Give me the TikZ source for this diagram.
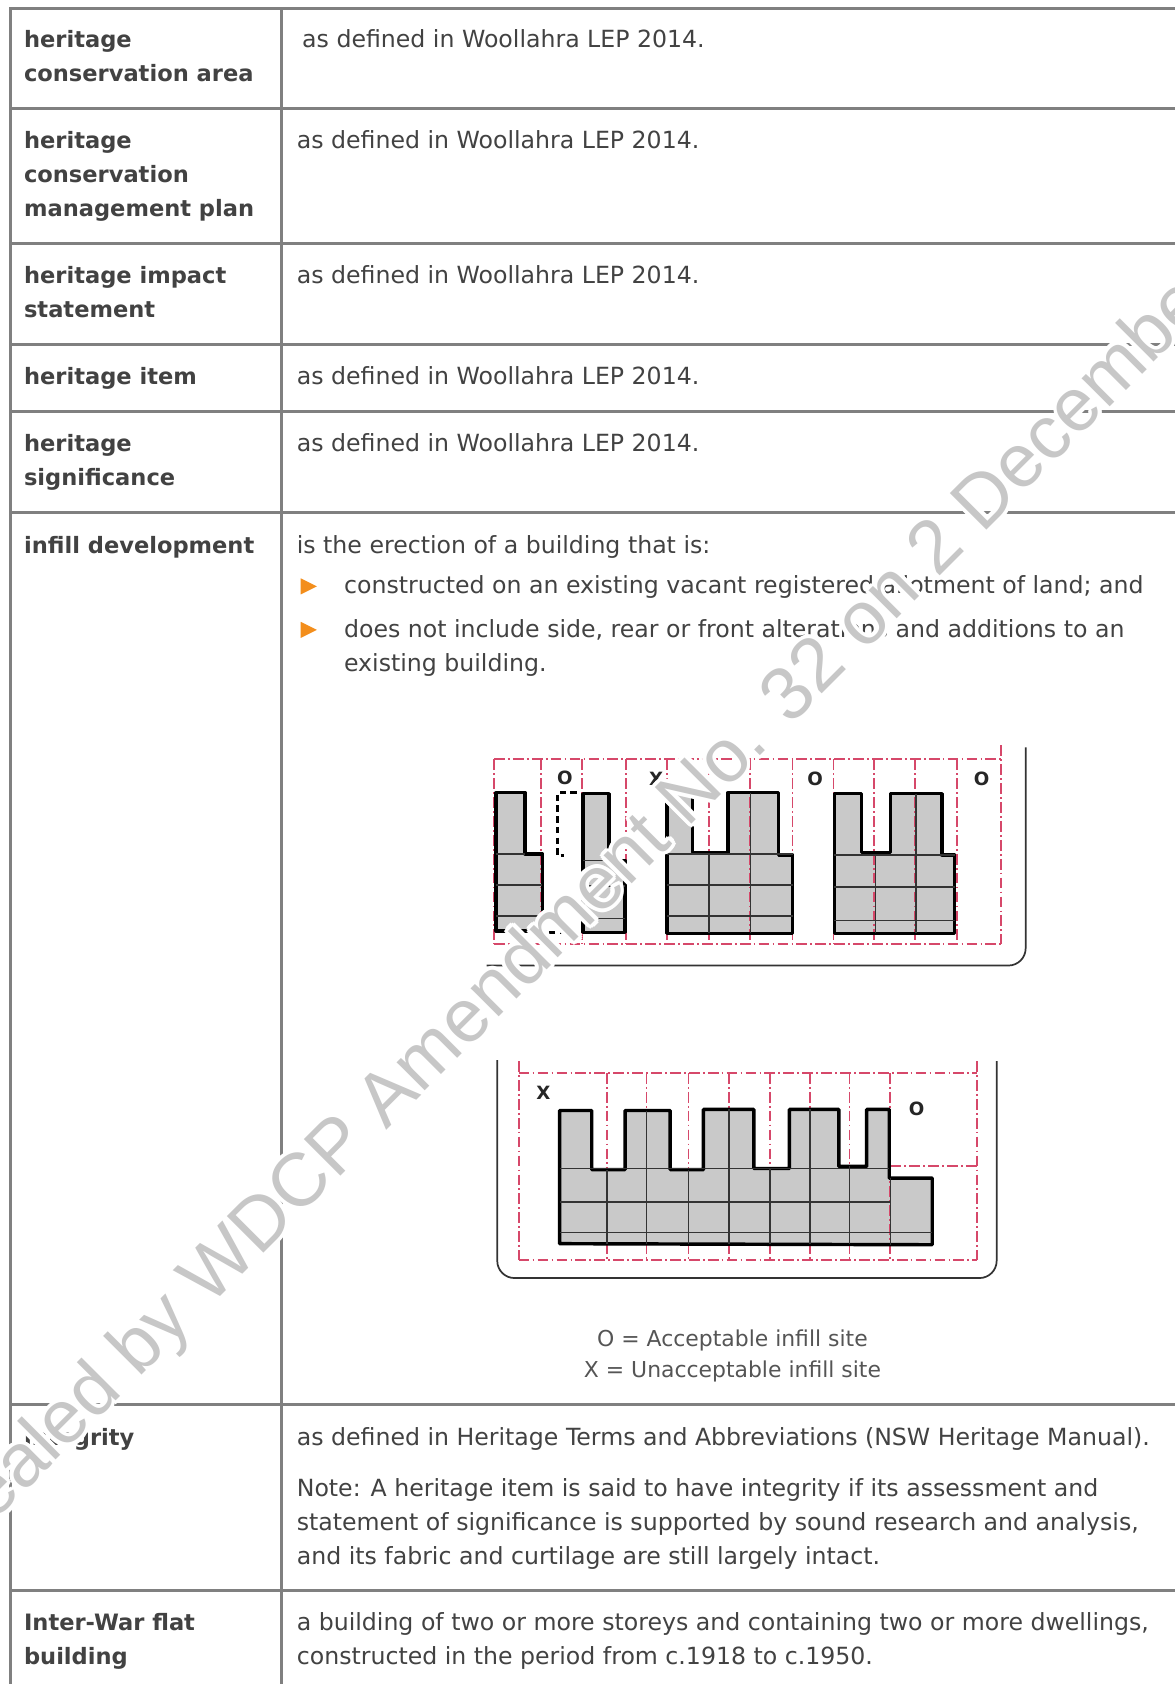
\documentclass[tikz,border=0pt]{standalone}
\usepackage{fontspec}
\setmainfont{DejaVu Sans}
\newfontfamily\wmfont{Liberation Sans}

\definecolor{rulegrey}{RGB}{128,128,128}
\definecolor{txtgrey}{RGB}{66,66,66}
\definecolor{bulletorange}{RGB}{243,142,28}
\definecolor{lotred}{RGB}{214,72,106}
\definecolor{roofgrey}{RGB}{201,201,201}
\definecolor{markgrey}{RGB}{199,199,199}

\tikzset{
  term/.style={anchor=base west, inner sep=0pt, text=txtgrey, font=\fontsize{10.5}{12}\selectfont\bfseries},
  defn/.style={anchor=base west, inner sep=0pt, text=txtgrey, font=\fontsize{11}{13}\selectfont},
  legend/.style={anchor=base, inner sep=0pt, text=txtgrey!90, font=\fontsize{10.2}{12}\selectfont},
  sitelabel/.style={inner sep=0pt, text=black!85, font=\fontsize{8.5}{9}\selectfont\bfseries},
  rule/.style={rulegrey, line width=1.3pt},
  lotline/.style={lotred, line width=0.8pt, dash pattern=on 5pt off 1.5pt on 0.8pt off 1.5pt},
  bldgedge/.style={draw=black, line width=1.6pt, line join=round},
  floorline/.style={black!80, line width=0.7pt},
  ghostline/.style={black, line width=1.4pt, dash pattern=on 3pt off 2pt},
  frameline/.style={black!80, line width=0.8pt, rounded corners=8pt},
  wmark/.style={anchor=base west, inner sep=0pt, rotate=45, font=\wmfont\fontsize{35}{40}\selectfont},
}

\begin{document}
\begin{tikzpicture}[x=0.5pt, y=-0.5pt]
    \useasboundingbox (0,0) rectangle (1094,1568);
    \clip (0,0) rectangle (1094,1568);
    \fill[white] (0,0) rectangle (1094,1568);

    % Table rules
    \draw[rule] (9.5,1575) |- (1100,8);
    \draw[rule] (262,8) -- (262,1575);
    \foreach \y in {101,227,321,383,477,1308,1481} {
        \draw[rule] (9.5,\y) -- (1100,\y);
    }

    % Terms
    \node[term] (hcaA) at (22,44) {heritage};
    \node[term] (hcaB) at (22,76) {conservation area};
    \node[term] (hcmpA) at (22,138) {heritage};
    \node[term] (hcmpB) at (22,170) {conservation};
    \node[term] (hcmpC) at (22,202) {management plan};
    \node[term] (hisA) at (22,264) {heritage impact};
    \node[term] (hisB) at (22,296) {statement};
    \node[term] (hitem) at (22,358) {heritage item};
    \node[term] (hsigA) at (22,420) {heritage};
    \node[term] (hsigB) at (22,452) {significance};
    \node[term] (infill) at (22,515) {infill development};
    \node[term] (integ) at (22,1346) {integrity};
    \node[term] (iwfA) at (22,1517.7) {Inter-War flat};
    \node[term] (iwfB) at (22,1550) {building};

    % Definitions
    \node[defn] (hcaDef) at (281,44) {as defined in Woollahra LEP 2014.};
    \node[defn] (hcmpDef) at (276,138) {as defined in Woollahra LEP 2014.};
    \node[defn] (hisDef) at (276,264) {as defined in Woollahra LEP 2014.};
    \node[defn] (hitemDef) at (276,358) {as defined in Woollahra LEP 2014.};
    \node[defn] (hsigDef) at (276,420) {as defined in Woollahra LEP 2014.};
    \node[defn] (infillDef) at (276,515) {is the erection of a building that is:};
    \fill[bulletorange] (280,538.5) -- (295,546) -- (280,553.5) -- cycle;
    \node[defn] (infillB) at (320,553) {constructed on an existing vacant registered allotment of land; and};
    \fill[bulletorange] (280,579) -- (295,586.5) -- (280,594) -- cycle;
    \node[defn] (infillC) at (320,593.5) {does not include side, rear or front alterations and additions to an};
    \node[defn] (infillD) at (320,625) {existing building.};
    \node[defn] (integDef) at (276,1346) {as defined in Heritage Terms and Abbreviations (NSW Heritage Manual).};
    \node[defn] (noteA) at (276,1393) {Note: A heritage item is said to have integrity if its assessment and};
    \node[defn] (noteB) at (276,1425) {statement of significance is supported by sound research and analysis,};
    \node[defn] (noteC) at (276,1457) {and its fabric and curtilage are still largely intact.};
    \node[defn] (iwfDefA) at (276,1517.7) {a building of two or more storeys and containing two or more dwellings,};
    \node[defn] (iwfDefB) at (276,1550) {constructed in the period from c.1918 to c.1950.};

    % Street of separate buildings
    \path[save path=\bldgA] (462,738) -- (489,738) -- (489,795) -- (505,795) -- (505,867) -- (462,867) -- cycle;
    \path[save path=\bldgB] (543,739) -- (567,739) -- (567,801) -- (582,801) -- (582,868) -- (543,868) -- cycle;
    \path[save path=\bldgC] (621,738) -- (645,738) -- (645,794) -- (678,794) -- (678,738) -- (725,738)
        -- (725,796) -- (738,796) -- (738,869) -- (621,869) -- cycle;
    \path[save path=\bldgD] (777,739) -- (802,739) -- (802,794) -- (829,794) -- (829,739) -- (877,739)
        -- (877,796) -- (889,796) -- (889,869) -- (777,869) -- cycle;
    \foreach \b in {\bldgA,\bldgB,\bldgC,\bldgD} {
        \fill[roofgrey, use path=\b];
    }
    \draw[lotline] (460,707) -- (932,707);
    \draw[lotline] (460,879) -- (932,879);
    \foreach \x in {460,504,542,583,621,660,698,738,776,814,852,891} {
        \draw[lotline] (\x,707) -- (\x,879);
    }
    \draw[lotline] (932,694) -- (932,879);
    \foreach \b in {\bldgA,\bldgB,\bldgC,\bldgD} {
        \draw[bldgedge, use path=\b];
    }
    \draw[floorline] (462,795) -- (489,795) (462,824) -- (505,824) (462,853) -- (505,853);
    \draw[floorline] (543,801) -- (567,801) (543,825) -- (582,825) (543,855) -- (582,855);
    \draw[floorline] (621,795) -- (738,795) (621,824) -- (738,824) (621,853) -- (738,853)
        (660,795) -- (660,869) (699,738) -- (699,869);
    \draw[floorline] (777,796) -- (889,796) (777,826) -- (889,826) (777,857) -- (889,857)
        (815,796) -- (815,869) (853,739) -- (853,869);
    \draw[ghostline] (537,738) -- (519,738) -- (519,797) -- (525,797);
    \draw[ghostline] (511,868) -- (537,868);
    \node[sitelabel] (siteOa) at (526,724) {O};
    \node[sitelabel] (siteXa) at (611,725) {X};
    \node[sitelabel] (siteOb) at (759,725) {O};
    \node[sitelabel] (siteOc) at (914,725) {O};
    \draw[frameline] (955,696) -- (955,899) -- (453,899);

    % Terrace row
    \path[save path=\bldgE] (521,1034) -- (551,1034) -- (551,1089) -- (582,1089) -- (582,1034) -- (624,1034)
        -- (624,1089) -- (655,1089) -- (655,1033) -- (702,1033) -- (702,1088) -- (735,1088) -- (735,1033)
        -- (781,1033) -- (781,1086) -- (807,1086) -- (807,1033) -- (828,1033) -- (828,1097) -- (868,1097)
        -- (868,1159) -- (521,1158) -- cycle;
    \fill[roofgrey, use path=\bldgE];
    \draw[lotline] (483,999) -- (910,999);
    \draw[lotline] (483,1173) -- (910,1173);
    \draw[lotline] (829,1086) -- (910,1086);
    \foreach \x in {565,602,641,679,717,754,791,829} {
        \draw[lotline] (\x,999) -- (\x,1173);
    }
    \draw[lotline] (483,988) -- (483,1173);
    \draw[lotline] (910,988) -- (910,1173);
    \draw[bldgedge, use path=\bldgE];
    \draw[floorline] (521,1088) -- (828,1088) (521,1119) -- (829,1119) (521,1147.5) -- (868,1147.5);
    \draw[floorline] (565,1089) -- (565,1158) (602,1034) -- (602,1158) (641,1089) -- (641,1158)
        (679,1033) -- (679,1158) (717,1088) -- (717,1158) (754,1033) -- (754,1158)
        (791,1086) -- (791,1158) (829,1097) -- (829,1159);
    \node[sitelabel] (siteXb) at (506,1018) {X};
    \node[sitelabel] (siteOd) at (853.5,1032) {O};
    \draw[frameline] (463,987) -- (463,1190) -- (928,1190) -- (928,988);

    % Legend
    \node[legend] (keyO) at (682,1254) {O = Acceptable infill site};
    \node[legend] (keyX) at (682,1283) {X = Unacceptable infill site};

    % Watermark
    \foreach \a in {0,30,...,330} {
        \node[wmark, text=white] (halo\a) at ([shift={(\a:3.5)}]-97,1509) {Repealed by WDCP Amendment No. 32 on 2 December};
    }
    \node[wmark, text=markgrey] (stamp) at (-97,1509) {Repealed by WDCP Amendment No. 32 on 2 December};
\end{tikzpicture}
\end{document}
